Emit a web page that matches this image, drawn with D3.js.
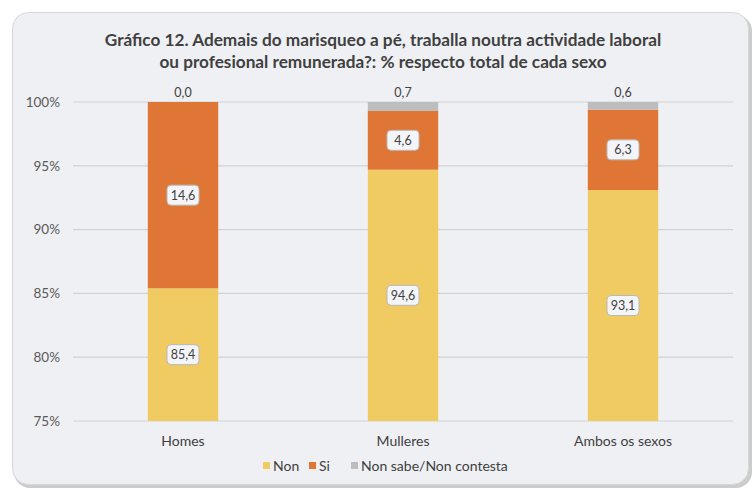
<!DOCTYPE html>
<html>
<head>
<meta charset="utf-8">
<script src="https://cdnjs.cloudflare.com/ajax/libs/d3/7.8.5/d3.min.js"></script>
<style>
  body { margin: 0; background: #ffffff; }
  #chart { font-family: Lato, "Open Sans", sans-serif; }
</style>
</head>
<body>
<div id="chart"></div>
<script>
const categories = ["Homes", "Mulleres", "Ambos os sexos"];
const seriesNames = ["Non", "Si", "Non sabe/Non contesta"];
const nonValues = [85.4, 94.6, 93.1];
const siValues = [14.6, 4.6, 6.3];
const nsncValues = [0.0, 0.7, 0.6];
const yTicks = [75, 80, 85, 90, 95, 100];
const colors = ["#f0cb62", "#e07636", "#bdbdbd"];

const svgWidth = 754;
const svgHeight = 489;
const margin = { top: 102, right: 21, bottom: 68, left: 73 };

const svg = d3.select("#chart")
    .append("svg")
    .attr("width", svgWidth)
    .attr("height", svgHeight);

// frame
svg.append("rect")
    .attr("x", 14).attr("y", 15)
    .attr("width", 738).attr("height", 473)
    .attr("rx", 16)
    .attr("fill", "#9a9a9a")
    .attr("opacity", 0.5);
svg.append("rect")
    .attr("x", 12.5).attr("y", 12.5)
    .attr("width", 736).attr("height", 472)
    .attr("rx", 16)
    .attr("fill", "#eff0f4")
    .attr("stroke", "#d4d6da");

svg.append("text")
    .attr("x", 383).attr("y", 46)
    .attr("text-anchor", "middle")
    .attr("fill", "#404040")
    .style("font-size", "17.2px")
    .style("font-weight", "bold")
    .text("Gráfico 12. Ademais do marisqueo a pé, traballa noutra actividade laboral");
svg.append("text")
    .attr("x", 383).attr("y", 68)
    .attr("text-anchor", "middle")
    .attr("fill", "#404040")
    .style("font-size", "17.2px")
    .style("font-weight", "bold")
    .text("ou profesional remunerada?: % respecto total de cada sexo");

const x = d3.scaleBand()
    .domain(categories)
    .range([margin.left, svgWidth - margin.right])
    .paddingInner(0.68)
    .paddingOuter(0.34);

const y = d3.scaleLinear()
    .domain([75, 100])
    .range([svgHeight - margin.bottom, margin.top]);

// gridlines
svg.selectAll("line.grid")
    .data(yTicks)
    .enter()
    .append("line")
    .attr("class", "grid")
    .attr("x1", margin.left)
    .attr("x2", svgWidth - margin.right)
    .attr("y1", d => y(d))
    .attr("y2", d => y(d))
    .attr("stroke", "#d0d2d6")
    .attr("stroke-width", 1.2);

svg.selectAll("text.ytick")
    .data(yTicks)
    .enter()
    .append("text")
    .attr("class", "ytick")
    .attr("x", 60)
    .attr("y", d => y(d))
    .attr("dy", "0.35em")
    .attr("text-anchor", "end")
    .attr("fill", "#595959")
    .style("font-size", "13.5px")
    .text(d => d + "%");

// stacked data (100% stacked)
const rows = categories.map((c, i) => {
    const total = nonValues[i] + siValues[i] + nsncValues[i];
    return {
        cat: c,
        raw: [nonValues[i], siValues[i], nsncValues[i]],
        norm: [nonValues[i], siValues[i], nsncValues[i]].map(v => v / total * 100)
    };
});

const stack = d3.stack()
    .keys([0, 1, 2])
    .value((d, k) => d.norm[k]);
const layers = stack(rows);

const clipTop = y(100), clipBottom = y(75);

layers.forEach((layer, k) => {
    svg.selectAll("rect.s" + k)
        .data(layer)
        .enter()
        .append("rect")
        .attr("class", "s" + k)
        .attr("x", d => x(d.data.cat))
        .attr("width", x.bandwidth())
        .attr("y", d => Math.max(clipTop, y(d[1])))
        .attr("height", d => Math.max(0, Math.min(clipBottom, y(d[0])) - Math.max(clipTop, y(d[1]))))
        .attr("fill", colors[k]);
});

const fmt = v => v.toFixed(1).replace(".", ",");

// boxed labels for Non and Si
[0, 1].forEach(k => {
    layers[k].forEach(d => {
        const top = Math.max(clipTop, y(d[1]));
        const bottom = Math.min(clipBottom, y(d[0]));
        const cx = x(d.data.cat) + x.bandwidth() / 2;
        const cy = (top + bottom) / 2;
        const g = svg.append("g").attr("transform", `translate(${cx},${cy})`);
        g.append("rect")
            .attr("x", -16).attr("y", -10)
            .attr("width", 32).attr("height", 20)
            .attr("rx", 4)
            .attr("fill", "#f4f5f8")
            .attr("stroke", "#b8b8b8");
        g.append("text")
            .attr("text-anchor", "middle")
            .attr("dy", "0.35em")
            .attr("fill", "#404040")
            .style("font-size", "12.5px")
            .text(fmt(d.data.raw[k]));
    });
});

// NS/NC labels above bars
svg.selectAll("text.top")
    .data(rows)
    .enter()
    .append("text")
    .attr("class", "top")
    .attr("x", d => x(d.cat) + x.bandwidth() / 2)
    .attr("y", y(100) - 5)
    .attr("text-anchor", "middle")
    .attr("fill", "#404040")
    .style("font-size", "12.5px")
    .text(d => fmt(d.raw[2]));

// category labels
svg.selectAll("text.cat")
    .data(categories)
    .enter()
    .append("text")
    .attr("class", "cat")
    .attr("x", d => x(d) + x.bandwidth() / 2)
    .attr("y", 446)
    .attr("text-anchor", "middle")
    .attr("fill", "#404040")
    .style("font-size", "14px")
    .text(d => d);

// legend
const legendX = [263, 309, 351];
const legend = svg.selectAll("g.legend")
    .data(seriesNames)
    .enter()
    .append("g")
    .attr("class", "legend")
    .attr("transform", (d, i) => `translate(${legendX[i]},466)`);
legend.append("rect")
    .attr("x", 0).attr("y", -4)
    .attr("width", 7).attr("height", 7)
    .attr("fill", (d, i) => colors[i]);
legend.append("text")
    .attr("x", 10)
    .attr("dy", "0.35em")
    .attr("fill", "#404040")
    .style("font-size", "14px")
    .text(d => d);
</script>
</body>
</html>
